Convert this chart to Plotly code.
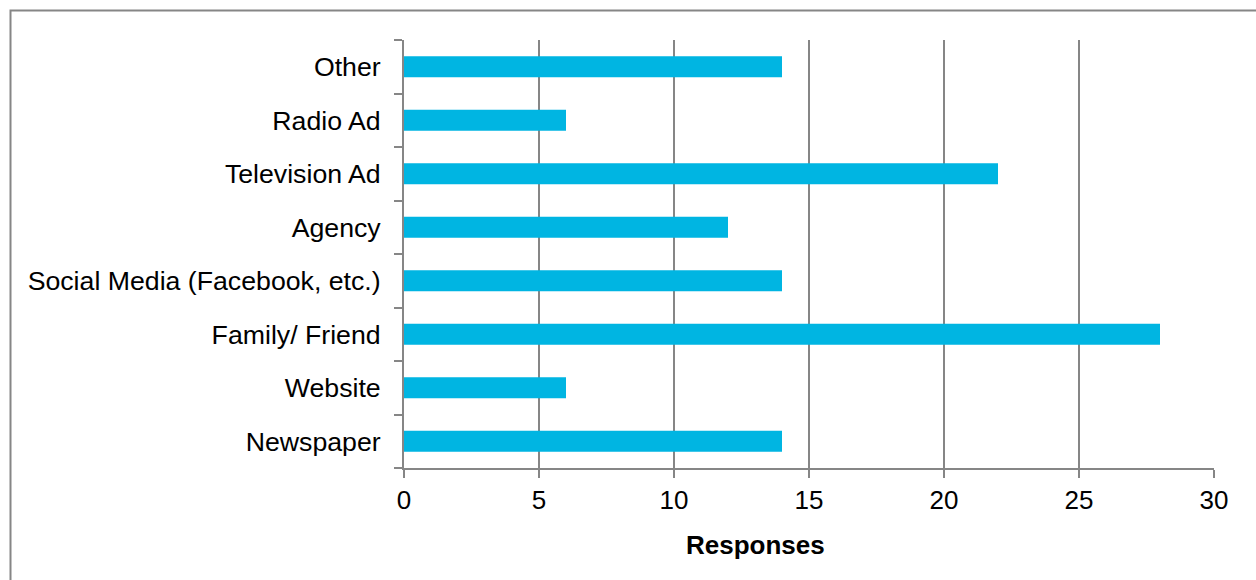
import plotly.graph_objects as go

categories = ["Newspaper", "Website", "Family/ Friend", "Social Media (Facebook, etc.)",
              "Agency", "Television Ad", "Radio Ad", "Other"]
responses = [14, 6, 28, 14, 12, 22, 6, 14]
x_ticks = [0, 5, 10, 15, 20, 25, 30]

W, H = 1256, 580
L, R, T, B = 404, 42, 40, 112
pw, ph = W - L - R, H - T - B

def px_x(p):
    return (p - L) / pw

def px_y(p):
    return (H - B - p) / ph

grid = "#868686"
fig = go.Figure(go.Bar(
    y=categories, x=responses, orientation="h",
    marker=dict(color="#00B5E2", line=dict(width=0)),
))

fig.update_layout(
    width=W, height=H,
    margin=dict(l=L, r=R, t=T, b=B),
    paper_bgcolor="white", plot_bgcolor="white",
    bargap=0.61,
    showlegend=False,
    font=dict(family="Liberation Sans, Arial, sans-serif", size=26, color="black"),
    xaxis=dict(range=[0, 30], tickvals=x_ticks, showgrid=True, gridcolor=grid, gridwidth=2,
               showline=True, linecolor=grid, linewidth=2, ticks="outside", ticklen=8,
               tickwidth=2, tickcolor=grid, zeroline=False, fixedrange=True),
    yaxis=dict(type="category", categoryorder="array", categoryarray=categories,
               showline=True, linecolor=grid, linewidth=2, ticks="outside", ticklen=8,
               tickwidth=2, tickcolor=grid, tickson="boundaries", showgrid=False,
               ticklabelstandoff=16, tickfont=dict(size=26.7),
               zeroline=False, fixedrange=True),
    shapes=[dict(type="rect", xref="paper", yref="paper",
                 x0=px_x(10.5), x1=px_x(W + 20), y0=px_y(H + 20), y1=px_y(10.5),
                 line=dict(color=grid, width=2), fillcolor="rgba(0,0,0,0)", layer="below")],
    annotations=[dict(text="<b>Responses</b>", xref="paper", yref="paper",
                      x=px_x(755), y=px_y(545), showarrow=False,
                      xanchor="center", yanchor="middle", font=dict(size=26))],
)

fig.write_html("out.html")
